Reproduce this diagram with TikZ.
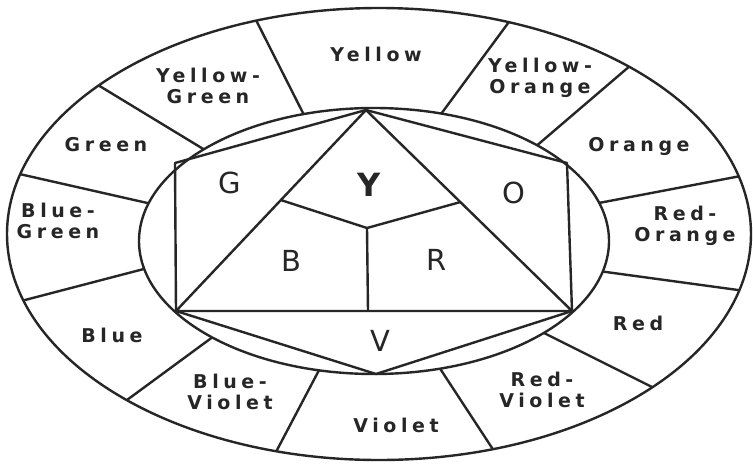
\documentclass[tikz,border=0pt]{standalone}
\usepackage{fontspec}
\setmainfont{DejaVu Sans}
\newfontfamily\lblfont{DejaVu Sans}[LetterSpace=24]
\usetikzlibrary{calc}
\definecolor{ink}{HTML}{262626}
\begin{document}
\begin{tikzpicture}[x=1pt,y=-1pt,
  ln/.style={line width=2.4pt, draw=ink, line cap=round, line join=round},
  lbl/.style={font=\lblfont\bfseries\fontsize{19}{21.5}\selectfont, text=ink, align=center, inner sep=0pt},
  big/.style={font=\fontsize{29}{29}\selectfont, text=ink, inner sep=0pt}]
\fill[white] (0,0) rectangle (753,464);
\useasboundingbox (0,0) rectangle (753,464);
% dividers of the outer ring
\begin{scope}
  \clip (379,234) ellipse [x radius=372pt, y radius=226pt];
  \foreach \ix/\iy/\ox/\oy in {303/113/257/22, 444/110/503/30, 541/142/624/71,
      604/202/746/175, 606/272/738/290, 548/335/656/389, 441/370/496/454,
      317/374/277/450, 210/339/127/400, 140/270/25/300, 143/202/15/173, 200/147/93/82}
    \draw[ln] ($(\ix,\iy)!-0.2!(\ox,\oy)$) -- ($(\ix,\iy)!1.3!(\ox,\oy)$);
\end{scope}
\fill[white] (374,241) ellipse [x radius=235pt, y radius=133pt];
\draw[ln] (374,241) ellipse [x radius=235pt, y radius=133pt];
\draw[ln] (379,234) ellipse [x radius=372pt, y radius=226pt];
% inner hexagon and triangles
\coordinate (T) at (366,110);
\coordinate (UR) at (567,163);
\coordinate (BR) at (572,311);
\coordinate (B) at (376,374);
\coordinate (BL) at (176,311);
\coordinate (UL) at (175,163);
\coordinate (C) at (367,228);
\coordinate (P1) at ($(T)!0.448!(BL)$);
\coordinate (P2) at ($(T)!0.458!(BR)$);
\coordinate (M) at (368,311);
\draw[ln] (T) -- (UR) -- (BR) -- (B) -- (BL) -- (UL) -- cycle;
\draw[ln] (BL) -- (T) -- (BR) -- cycle;
\draw[ln] (P1) -- (C) -- (P2);
\draw[ln] (C) -- (M);
% big letters
\node[big] (g) at (230,183) {G};
\node[big, font=\bfseries\fontsize{32}{32}\selectfont] (y) at (369,185) {Y};
\node[big] (o) at (514,193) {O};
\node[big] (b) at (291,261) {B};
\node[big] (r) at (437,260) {R};
\node[big] (v) at (380,341) {V};
% ring labels
\node[lbl] (yellow) at (376,54) {Yellow};
\node[lbl] (yelloworange) at (540,78) {Yellow-\\Orange};
\node[lbl] (orange) at (639,146) {Orange};
\node[lbl] (redorange) at (685,226) {Red-\\Orange};
\node[lbl] (red) at (638,323) {Red};
\node[lbl] (redviolet) at (542,390) {Red-\\Violet};
\node[lbl] (violet) at (396,425) {Violet};
\node[lbl] (blueviolet) at (230,392) {Blue-\\Violet};
\node[lbl] (blue) at (112,335) {Blue};
\node[lbl] (bluegreen) at (58,221) {Blue-\\Green};
\node[lbl] (green) at (106,145) {Green};
\node[lbl] (yellowgreen) at (208,86) {Yellow-\\Green};
\end{tikzpicture}
\end{document}
